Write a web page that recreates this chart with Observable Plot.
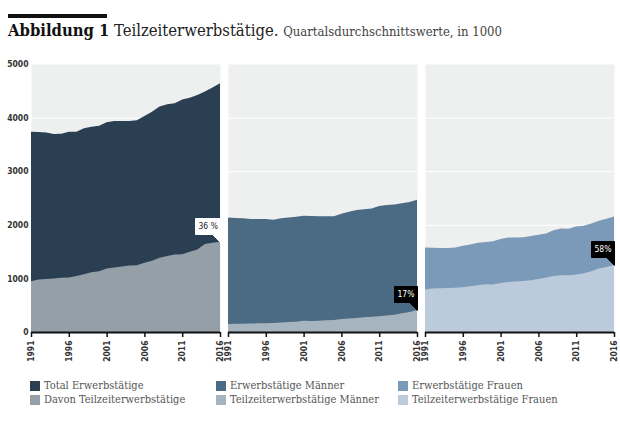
<!DOCTYPE html>
<html><head><meta charset="utf-8">
<script src="https://cdn.jsdelivr.net/npm/d3@7"></script>
<script src="https://cdn.jsdelivr.net/npm/@observablehq/plot@0.6"></script>
<style>
body{margin:0;background:#fff;}
#wrap{position:relative;width:620px;height:424px;overflow:hidden;font-family:"DejaVu Serif Condensed","DejaVu Serif",serif;}
.bar{position:absolute;left:8px;top:14px;width:99px;height:4px;background:#111;}
.title{position:absolute;left:8px;top:21px;white-space:nowrap;color:#222;font-size:16.5px;}
.title b{font-weight:bold;color:#111}
.title .sub{font-size:13px;color:#444}
#chart{position:absolute;left:0;top:58px;}
.leg{position:absolute;font-size:11px;color:#555;white-space:nowrap;line-height:13px;}
.leg div{height:14px;position:relative;padding-left:14px;}
.leg span{position:absolute;left:0;top:2px;width:10px;height:10px;}
</style>
</head><body>
<div id="wrap">
  <div class="bar"></div>
  <div class="title"><b>Abbildung 1</b> Teilzeiterwerbstätige. <span class="sub">Quartalsdurchschnittswerte, in 1000</span></div>
  <div id="chart"></div>
  <div id="legend"></div>
</div>
<script>
const years = [1991,1992,1993,1994,1995,1996,1997,1998,1999,2000,2001,2002,2003,2004,2005,2006,2007,2008,2009,2010,2011,2012,2013,2014,2015,2016];
const totalAll = [3738,3730,3720,3695,3700,3738,3735,3800,3830,3850,3913,3938,3938,3935,3950,4030,4110,4205,4250,4270,4340,4370,4420,4485,4560,4640];
const partAll  = [947,980,990,1000,1010,1015,1047,1078,1115,1135,1185,1204,1222,1240,1247,1290,1327,1383,1420,1447,1452,1495,1540,1640,1663,1682];
const totalMen = [2138,2125,2120,2107,2110,2110,2093,2120,2138,2150,2168,2162,2160,2160,2160,2205,2243,2275,2288,2305,2350,2368,2380,2400,2425,2467];
const partMen  = [148,152,156,158,162,164,170,178,186,192,210,206,212,218,224,242,250,262,275,283,296,308,320,352,372,410];
const totalWomen = [1578,1570,1565,1565,1578,1608,1633,1664,1677,1695,1733,1764,1764,1770,1789,1813,1839,1900,1932,1925,1970,1981,2026,2075,2112,2157];
const partWomen  = [792,811,817,822,824,835,854,873,891,885,916,935,941,953,966,991,1016,1047,1060,1060,1073,1097,1135,1185,1215,1250];
const panels = ["Total","Männer","Frauen"];
const pctLabels = ["36 %","17%","58%"];
const xTicks = [1991,1996,2001,2006,2011,2016];
const yTicks = [0,1000,2000,3000,4000,5000];
const legendLabels = [["Total Erwerbstätige","Davon Teilzeiterwerbstätige"],["Erwerbstätige Männer","Teilzeiterwerbstätige Männer"],["Erwerbstätige Frauen","Teilzeiterwerbstätige Frauen"]];
const totalColors = ["#2a3f51","#4b6a84","#7b9ab9"];
const partColors  = ["#959fa8","#a6b4c0","#bccbdc"];
const labelFills = ["#ffffff","#000000","#000000"];
const labelText = ["#222222","#ffffff","#ffffff"];

const series = [[totalAll,partAll],[totalMen,partMen],[totalWomen,partWomen]];
const rows = [];
panels.forEach((p,i)=>years.forEach((y,j)=>rows.push({panel:p, idx:i, year:y, total:series[i][0][j], part:series[i][1][j]})));
const annots = panels.map((p,i)=>({panel:p, idx:i, year:years[years.length-1], value:series[i][1][years.length-1], label:pctLabels[i]}));

const chart = Plot.plot({
  width: 620, height: 312,
  marginTop: 6, marginBottom: 38, marginLeft: 30, marginRight: 4,
  style: {fontFamily: "DejaVu Sans Condensed, DejaVu Sans", fontSize: "8.5px", color: "#333", background: "transparent"},
  fx: {domain: panels, paddingInner: 0.04, paddingOuter: 0, axis: null, label: null},
  x: {domain: [1991, 2016]},
  y: {domain: [0, 5000]},
  color: {type: "identity"},
  marks: [
    Plot.frame({fill: "#eeefef", stroke: null}),
    Plot.gridY(yTicks.slice(1,5), {stroke: "#ffffff", strokeOpacity: 1, strokeWidth: 1}),
    Plot.areaY(rows, {x: "year", y: "total", fx: "panel", fill: d => totalColors[d.idx], curve: "linear"}),
    Plot.areaY(rows, {x: "year", y: "part", fx: "panel", fill: d => partColors[d.idx], curve: "linear"}),
    Plot.ruleY([0], {stroke: "#111", strokeWidth: 2}),
    Plot.axisX({ticks: xTicks, tickFormat: d => String(d), tickRotate: -90, tickSize: 5, tickPadding: 3, fontWeight: "bold", stroke: "#111", strokeWidth: 1.5, label: null}),
    Plot.axisY({ticks: yTicks, tickFormat: d => String(d), tickSize: 0, tickPadding: 3, fontWeight: "bold", label: null}),
    ...annots.map((a,i) => Plot.tip([a], {x: "year", y: "value", fx: "panel", title: "label", anchor: "bottom-right",
      fill: labelFills[i], stroke: labelFills[i], pathFilter: "none", pointerSize: 8, textPadding: 3, fontSize: 8.5, fontFamily: "DejaVu Sans Condensed, DejaVu Sans"}))
  ]
});
document.getElementById("chart").appendChild(chart);
// colour tip text
const tips = chart.querySelectorAll('g[aria-label="tip"]');
tips.forEach((g,i)=>{ g.querySelectorAll("text, tspan").forEach(t=>t.setAttribute("fill", labelText[i % 3])); g.setAttribute("fill", labelText[i % 3]); });

const legend = document.getElementById("legend");
const legLeft = [30, 216, 398];
legendLabels.forEach((labs,i)=>{
  const col = document.createElement("div");
  col.className = "leg";
  col.style.left = legLeft[i] + "px";
  col.style.top = "379px";
  const cols = [totalColors[i], partColors[i]];
  col.innerHTML = labs.map((l,k)=>`<div><span style="background:${cols[k]}"></span>${l}</div>`).join("");
  legend.appendChild(col);
});
</script>
</body></html>
